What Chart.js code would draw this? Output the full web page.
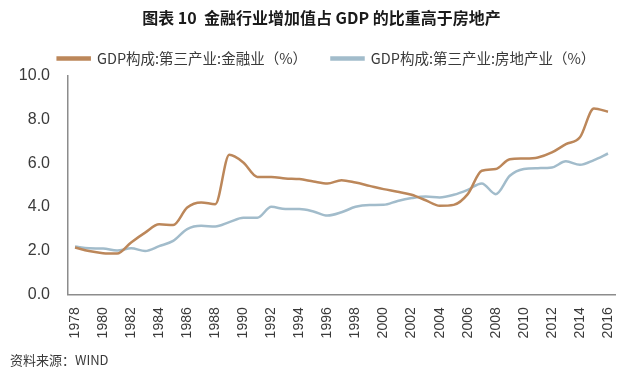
<!DOCTYPE html>
<html>
<head>
<meta charset="utf-8">
<script src="https://cdn.jsdelivr.net/npm/chart.js@4"></script>
<style>
  html, body { margin: 0; padding: 0; background: #fff; }
  #wrap { width: 640px; height: 379px; }
</style>
</head>
<body>
<div id="wrap"><canvas id="chart" width="640" height="379"></canvas></div>
<script>
// years 1978 - 2016
const years = [];
for (let y = 1978; y <= 2016; y++) years.push(String(y));

// GDP构成:第三产业:金融业 (%)
const finance = [2.14, 1.98, 1.88, 1.86, 2.37, 2.82, 3.2, 3.17, 3.97, 4.2,
  4.12, 6.38, 6.03, 5.37, 5.37, 5.3, 5.27, 5.16, 5.07, 5.22,
  5.11, 4.96, 4.81, 4.69, 4.55, 4.3, 4.05, 4.09, 4.58, 5.65,
  5.73, 6.18, 6.21, 6.26, 6.49, 6.87, 7.18, 8.5, 8.35];

// GDP构成:第三产业:房地产业 (%)
const realEstate = [2.18, 2.1, 2.09, 2.0, 2.1, 1.98, 2.2, 2.44, 2.98, 3.13,
  3.1, 3.3, 3.5, 3.5, 4.0, 3.9, 3.9, 3.79, 3.6, 3.75,
  4.0, 4.08, 4.09, 4.27, 4.4, 4.47, 4.43, 4.55, 4.78, 5.07,
  4.58, 5.42, 5.73, 5.77, 5.8, 6.08, 5.92, 6.14, 6.44];

const yTicks = [0, 2, 4, 6, 8, 10];

const orange = '#BC875A';
const blue = '#A2BCCB';
const textColor = '#3a3a3a';
const cjk = '"Noto Sans CJK SC", "Noto Sans", sans-serif';
const latin = '"Liberation Sans", Arial, sans-serif';

// nudge title and legend a bit to the right, like in the original
const headerShift = {
  id: 'headerShift',
  afterLayout(chart) {
    chart.legend.left += 14;
    chart.legend.right += 14;
    chart.titleBlock.left += 9;
    chart.titleBlock.right += 9;
  }
};

const ctx = document.getElementById('chart').getContext('2d');
new Chart(ctx, {
  type: 'line',
  data: {
    labels: years,
    datasets: [
      {
        // trailing spaces only widen the gap between the two legend items
        label: 'GDP构成:第三产业:金融业（%）\u3000\u2002',
        data: finance,
        borderColor: orange,
        backgroundColor: orange,
        borderWidth: 2.5,
        pointRadius: 0,
        cubicInterpolationMode: 'monotone'
      },
      {
        label: 'GDP构成:第三产业:房地产业（%）',
        data: realEstate,
        borderColor: blue,
        backgroundColor: blue,
        borderWidth: 2.5,
        pointRadius: 0,
        cubicInterpolationMode: 'monotone'
      }
    ]
  },
  plugins: [headerShift],
  options: {
    responsive: false,
    animation: false,
    layout: { padding: { left: 10, right: 25, top: 0, bottom: 5 } },
    plugins: {
      title: {
        display: true,
        text: '图表 10  金融行业增加值占 GDP 的比重高于房地产',
        color: '#1a1a1a',
        font: { family: cjk, size: 16, weight: 'bold' },
        padding: { top: 8, bottom: 14 }
      },
      legend: {
        display: true,
        labels: {
          color: textColor,
          boxWidth: 32,
          boxHeight: 2,
          padding: 10,
          font: { family: cjk, size: 14.5 }
        }
      },
      subtitle: {
        display: true,
        position: 'bottom',
        align: 'start',
        text: '资料来源：WIND',
        color: textColor,
        font: { family: cjk, size: 13 },
        padding: { top: 1, bottom: 6 }
      },
      tooltip: { enabled: false }
    },
    scales: {
      x: {
        offset: true,
        grid: { display: false, drawTicks: false },
        border: { display: true, color: '#8c8c8c', width: 1.5 },
        ticks: {
          autoSkip: false,
          minRotation: 90,
          maxRotation: 90,
          padding: 13,
          color: textColor,
          font: { family: latin, size: 14 },
          callback: function (value, index) {
            return index % 2 === 0 ? years[index] : '';
          }
        }
      },
      y: {
        min: 0,
        max: 10,
        grid: { display: false, drawTicks: false },
        border: { display: true, color: '#8c8c8c', width: 1.5 },
        afterBuildTicks: function (axis) {
          axis.ticks = yTicks.map(v => ({ value: v }));
        },
        afterFit: function (axis) {
          axis.width = 58;
        },
        ticks: {
          padding: 18,
          color: textColor,
          font: { family: latin, size: 16 },
          callback: function (value) {
            return value.toFixed(1);
          }
        }
      }
    }
  }
});
</script>
</body>
</html>
